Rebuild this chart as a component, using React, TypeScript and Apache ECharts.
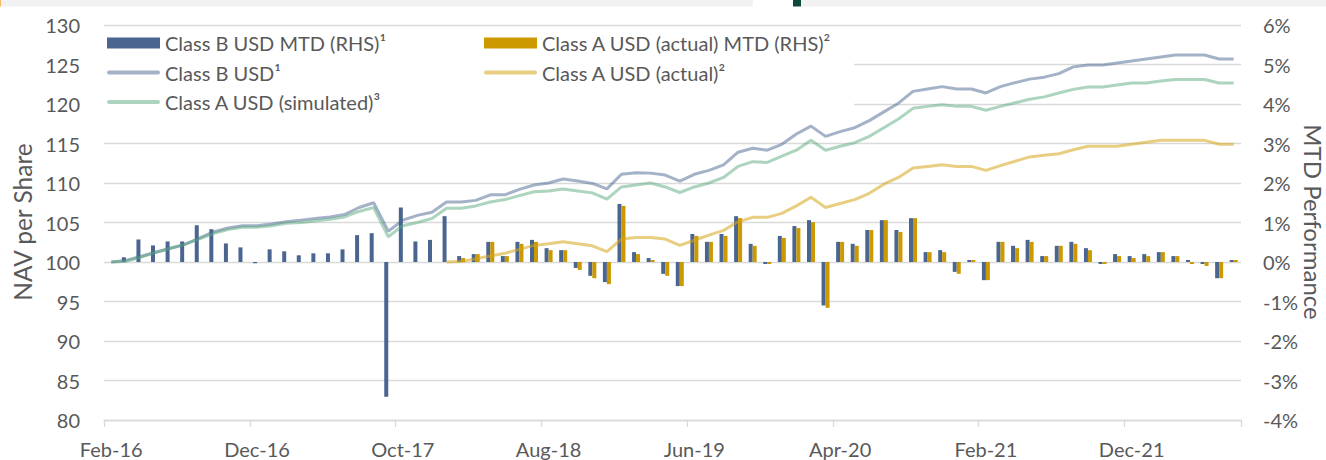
import React, { useEffect, useRef } from "react";
import * as echarts from "echarts";

const months = [
  "Feb-16", "Mar-16", "Apr-16", "May-16", "Jun-16", "Jul-16", "Aug-16", "Sep-16", "Oct-16", "Nov-16", "Dec-16",
  "Jan-17", "Feb-17", "Mar-17", "Apr-17", "May-17", "Jun-17", "Jul-17", "Aug-17", "Sep-17", "Oct-17", "Nov-17", "Dec-17",
  "Jan-18", "Feb-18", "Mar-18", "Apr-18", "May-18", "Jun-18", "Jul-18", "Aug-18", "Sep-18", "Oct-18", "Nov-18", "Dec-18",
  "Jan-19", "Feb-19", "Mar-19", "Apr-19", "May-19", "Jun-19", "Jul-19", "Aug-19", "Sep-19", "Oct-19", "Nov-19", "Dec-19",
  "Jan-20", "Feb-20", "Mar-20", "Apr-20", "May-20", "Jun-20", "Jul-20", "Aug-20", "Sep-20", "Oct-20", "Nov-20", "Dec-20",
  "Jan-21", "Feb-21", "Mar-21", "Apr-21", "May-21", "Jun-21", "Jul-21", "Aug-21", "Sep-21", "Oct-21", "Nov-21", "Dec-21",
  "Jan-22", "Feb-22", "Mar-22", "Apr-22", "May-22", "Jun-22", "Jul-22",
];

const classBMtd = [
  null,
  0.12, 0.57, 0.42, 0.52, 0.52, 0.93, 0.83, 0.47, 0.37, -0.03, 0.32, 0.27, 0.17, 0.22, 0.22, 0.32, 0.68, 0.73, -3.41, 1.38, 0.52,
  0.56, 1.16, 0.15, 0.2, 0.51, 0.15, 0.51, 0.56, 0.35, 0.3, -0.15, -0.35, -0.51, 1.47, 0.25, 0.1, -0.3, -0.61, 0.71, 0.51, 0.71,
  1.16, 0.46, -0.05, 0.66, 0.91, 1.06, -1.1, 0.51, 0.46, 0.81, 1.06, 0.81, 1.11, 0.25, 0.3, -0.25, 0.05, -0.46, 0.51,
  0.41, 0.56, 0.15, 0.41, 0.51, 0.35, -0.05, 0.2, 0.15, 0.2, 0.25, 0.15, 0.05, -0.05, -0.41, 0.05,
];

const classAMtd = [
  null, null, null, null, null, null, null, null, null, null, null, null,
  null, null, null, null, null, null, null, null, null, null, null, null,
  0.1, 0.2, 0.51, 0.15, 0.46, 0.51, 0.3, 0.3, -0.2, -0.41, -0.56, 1.42, 0.2, 0.05, -0.35, -0.61, 0.66, 0.51, 0.66,
  1.11, 0.41, -0.05, 0.61, 0.86, 1.01, -1.16, 0.51, 0.41, 0.81, 1.06, 0.76, 1.11, 0.25, 0.25, -0.3, 0.05, -0.46, 0.51,
  0.35, 0.51, 0.15, 0.41, 0.46, 0.3, -0.05, 0.15, 0.1, 0.15, 0.25, 0.15, -0.05, -0.1, -0.41, 0.05,
];

const classBNav = [
  100, 100.2, 100.7, 101.2, 101.7, 102.2, 103.0, 103.8, 104.3, 104.6, 104.6, 104.8, 105.1, 105.3, 105.5, 105.7, 106.0, 106.9, 107.5, 103.9, 105.3, 105.9,
  106.3, 107.6, 107.6, 107.8, 108.5, 108.5, 109.2, 109.75, 110.0, 110.5, 110.25, 109.95, 109.25, 111.1, 111.3, 111.25, 111.0, 110.25, 111.1, 111.6, 112.3,
  113.9, 114.4, 114.15, 114.9, 116.2, 117.2, 115.9, 116.5, 117.0, 117.9, 119.0, 120.1, 121.6, 121.9, 122.2, 121.9, 121.9, 121.4, 122.2,
  122.7, 123.15, 123.4, 123.85, 124.7, 124.95, 124.95, 125.2, 125.45, 125.7, 125.95, 126.2, 126.2, 126.2, 125.7, 125.7,
];

const classANavActual = [
  null, null, null, null, null, null, null, null, null, null, null, null,
  null, null, null, null, null, null, null, null, null, null, null,
  100.0, 100.05, 100.4, 100.75, 101.1, 101.6, 102.1, 102.3, 102.55, 102.3, 102.05, 101.3, 102.9, 103.1, 103.1, 102.9, 102.1, 102.75, 103.4, 104.0,
  105.1, 105.65, 105.65, 106.15, 107.1, 108.2, 106.9, 107.4, 107.9, 108.7, 109.85, 110.7, 111.9, 112.1, 112.3, 112.1, 112.1, 111.6, 112.2,
  112.75, 113.3, 113.5, 113.7, 114.2, 114.65, 114.65, 114.65, 114.9, 115.15, 115.4, 115.4, 115.4, 115.4, 114.9, 114.9,
];

const classANavSim = [
  100, 100.1, 100.6, 101.2, 101.7, 102.2, 102.9, 103.6, 104.1, 104.4, 104.4, 104.6, 104.9, 105.0, 105.2, 105.4, 105.7, 106.4, 106.9, 103.2, 104.6, 105.0,
  105.5, 106.8, 106.8, 107.1, 107.6, 107.9, 108.4, 108.9, 109.0, 109.25, 109.0, 108.75, 107.95, 109.5, 109.75, 110.0, 109.5, 108.8, 109.5, 110.0, 110.7,
  112.1, 112.7, 112.6, 113.4, 114.15, 115.4, 114.15, 114.65, 115.1, 115.9, 117.0, 118.1, 119.45, 119.7, 119.9, 119.7, 119.7, 119.2, 119.7,
  120.15, 120.6, 120.9, 121.4, 121.85, 122.15, 122.15, 122.4, 122.65, 122.65, 122.9, 123.1, 123.1, 123.1, 122.65, 122.65,
];

const NAMES = {
  bMtd: "Class B USD MTD (RHS)\u00b9",
  aMtd: "Class A USD (actual) MTD (RHS)\u00b2",
  bNav: "Class B USD\u00b9",
  aNav: "Class A USD (actual)\u00b2",
  sim: "Class A USD (simulated)\u00b3",
};

const FONT = "Lato, 'Noto Sans', sans-serif";
const TXT = "#595959";
const GRID = "#d9d9d9";

const C_BBAR = "#4a6590";
const C_ABAR = "#cc9a00";
const C_BLINE = "rgba(74,101,144,0.5)";
const C_ALINE = "rgba(214,165,25,0.55)";
const C_SLINE = "rgba(90,170,125,0.5)";

const LINE_ICON = "path://M2 0H51A2 2 0 0 1 51 4H2A2 2 0 0 1 2 0Z";

export default function App() {
  const ref = useRef<HTMLDivElement>(null);
  useEffect(() => {
    const chart = echarts.init(ref.current!, null, { renderer: "svg" });
    const legendText = { fontFamily: FONT, fontSize: 20, color: TXT, lineHeight: 20 };
    chart.setOption({
      animation: false,
      backgroundColor: "#ffffff",
      grid: { left: 104, right: 85, top: 25, bottom: 40, containLabel: false },
      legend: [
        {
          left: 107, top: 33, orient: "vertical", padding: 0,
          itemWidth: 53, itemHeight: 11, itemGap: 9.5, textStyle: legendText,
          data: [
            { name: NAMES.bMtd, icon: "rect" },
            { name: NAMES.bNav, icon: LINE_ICON },
            { name: NAMES.sim, icon: LINE_ICON },
          ],
        },
        {
          left: 484, top: 33, orient: "vertical", padding: 0,
          itemWidth: 53, itemHeight: 11, itemGap: 9.5, textStyle: legendText,
          data: [
            { name: NAMES.aMtd, icon: "rect" },
            { name: NAMES.aNav, icon: LINE_ICON },
          ],
        },
      ],
      graphic: {
        elements: [
          { type: "rect", z: 1, shape: { x: 104, y: 28, width: 750, height: 92 }, style: { fill: "#ffffff" } },
          { type: "rect", shape: { x: 0, y: 0, width: 753, height: 6.5 }, style: { fill: "#f2f2f2" } },
          { type: "rect", shape: { x: 0, y: 0, width: 1, height: 6.5 }, style: { fill: "#f4bd63" } },
          { type: "rect", shape: { x: 793, y: 0, width: 8, height: 6.5 }, style: { fill: "#0b4a3c" } },
          { type: "rect", shape: { x: 801, y: 0, width: 525, height: 6.5 }, style: { fill: "#f2f2f2" } },
          {
            type: "text", x: 22, y: 222, rotation: Math.PI / 2,
            style: {
              text: "NAV per Share", font: `24.5px ${FONT}`, fill: TXT,
              align: "center", verticalAlign: "middle", lineHeight: 22,
            },
          },
          {
            type: "text", x: 1313, y: 222, rotation: -Math.PI / 2,
            style: {
              text: "MTD Performance", font: `24px ${FONT}`, fill: TXT,
              align: "center", verticalAlign: "middle", lineHeight: 20,
            },
          },
        ],
      },
      xAxis: {
        type: "category",
        data: months,
        boundaryGap: true,
        axisLine: { onZero: false, lineStyle: { color: GRID, width: 1.3 } },
        axisTick: { show: true, interval: 9, length: 7, lineStyle: { color: GRID, width: 1.3 } },
        axisLabel: { interval: 9, color: TXT, fontSize: 20, fontFamily: FONT, margin: 19 },
      },
      yAxis: [
        {
          type: "value", position: "left", min: 80, max: 130, interval: 5,
          axisLine: { show: false }, axisTick: { show: false },
          splitLine: { show: true, lineStyle: { color: GRID, width: 1.3 } },
          axisLabel: { color: TXT, fontSize: 20, fontFamily: FONT, margin: 24 },
        },
        {
          type: "value", position: "right", min: -4, max: 6, interval: 1,
          axisLine: { show: false }, axisTick: { show: false },
          splitLine: { show: false },
          axisLabel: { color: TXT, fontSize: 20, fontFamily: FONT, margin: 22, formatter: "{value}%" },
        },
      ],
      series: [
        {
          name: NAMES.bMtd, type: "bar", yAxisIndex: 1, data: classBMtd,
          barWidth: 4, barGap: "0%", itemStyle: { color: C_BBAR }, z: 2,
        },
        {
          name: NAMES.aMtd, type: "bar", yAxisIndex: 1, data: classAMtd,
          barWidth: 4, barGap: "0%", itemStyle: { color: C_ABAR }, z: 2,
        },
        {
          name: NAMES.bNav, type: "line", yAxisIndex: 0, data: classBNav, symbol: "none", z: 3,
          lineStyle: { color: C_BLINE, width: 3 }, itemStyle: { color: C_BLINE },
        },
        {
          name: NAMES.aNav, type: "line", yAxisIndex: 0, data: classANavActual, symbol: "none", z: 3,
          lineStyle: { color: C_ALINE, width: 3 }, itemStyle: { color: C_ALINE },
        },
        {
          name: NAMES.sim, type: "line", yAxisIndex: 0, data: classANavSim, symbol: "none", z: 3,
          lineStyle: { color: C_SLINE, width: 3 }, itemStyle: { color: C_SLINE },
        },
      ],
    });
    return () => chart.dispose();
  }, []);
  return (
    <div
      ref={ref}
      style={{ position: "fixed", left: 0, top: 0, width: 1326, height: 460, background: "#fff" }}
    />
  );
}
